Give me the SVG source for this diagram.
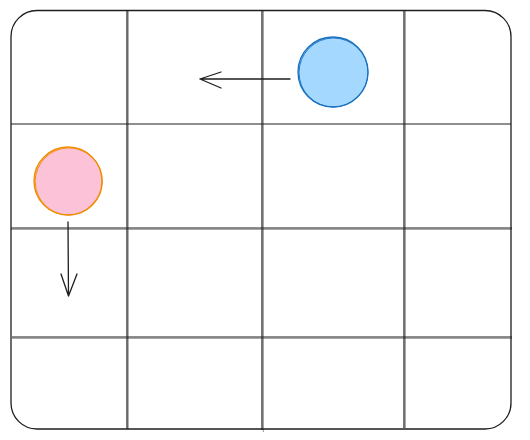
<svg xmlns="http://www.w3.org/2000/svg" width="530" height="440" viewBox="0 0 530 440">
<style>
.ln{stroke:#1e1e1e;stroke-width:1.3;fill:none;stroke-linecap:round}
.gr{stroke:#1e1e1e;stroke-width:1.2;fill:none}
.gr2{stroke:#1e1e1e;stroke-width:0.9;fill:none;opacity:0.55}
</style>
<rect width="530" height="440" fill="#ffffff"/>
<g id="board">
<rect x="11" y="10.5" width="500" height="418.5" rx="26" ry="26" class="ln"/>
<g id="grid">
<path class="gr" d="M127 11V429M262 11V430M404 11V428M11 124H511M11 228H512M12 337H512"/>
<path class="gr2" d="M128.2 11V429M263.3 11V432M405.3 11V428M11 229.3H512M12 338.3H512"/>
</g>
</g>
<g id="blue-circle">
<circle cx="333" cy="72" r="35" fill="#a5d8ff" stroke="#1971c2" stroke-width="1.3"/>
<circle cx="333.5" cy="72.5" r="34.5" fill="none" stroke="#1971c2" stroke-width="0.9"/>
</g>
<g id="pink-circle">
<circle cx="68" cy="181" r="34" fill="#fcc2d7" stroke="#f08c00" stroke-width="1.3"/>
<circle cx="68.8" cy="181.5" r="33.6" fill="none" stroke="#f08c00" stroke-width="0.9"/>
</g>
<g id="connectors">
<path class="ln" d="M290 79H200M200 79L221 72M200 79L221 88"/>
<path class="ln" d="M68 222L68.5 296M68.5 296L61 274M68.5 296L77 274"/>
</g>
</svg>
